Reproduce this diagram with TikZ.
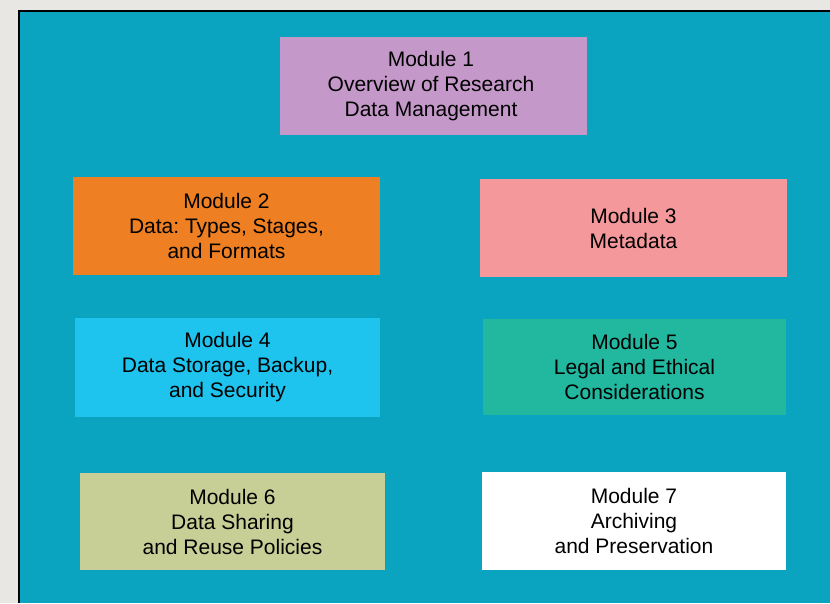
\documentclass[tikz,border=0pt]{standalone}
\usepackage{fontspec}
\setmainfont{Liberation Sans}
\frenchspacing
\definecolor{outergray}{HTML}{E8E7E3}
\definecolor{tealbg}{HTML}{0AA3C0}
\definecolor{mpurple}{HTML}{C498C8}
\definecolor{morange}{HTML}{EE7F22}
\definecolor{mpink}{HTML}{F4989B}
\definecolor{mblue}{HTML}{1EC3EE}
\definecolor{mgreen}{HTML}{22B8A0}
\definecolor{molive}{HTML}{C8CF96}
\definecolor{mwhite}{HTML}{FFFFFF}
\tikzset{
  modbox/.style={draw=none, inner sep=0pt, outer sep=0pt, align=center,
    font=\fontsize{21}{25}\selectfont, text=black},
}
\begin{document}
\begin{tikzpicture}[x=1pt,y=-1pt]
\useasboundingbox (0,0) rectangle (830,603);
\fill[outergray] (0,0) rectangle (830,603);
\fill[tealbg] (19,11) rectangle (830,603);
\draw[black, line width=1.5pt] (19,603) -- (19,11) -- (830,11);
% boxes
\fill[mpurple] (280,37) rectangle (587,135);
\node[modbox] (m1) at (431,86) {Module 1\\Overview of Research\\Data Management};
\fill[morange] (73,177) rectangle (380,275);
\node[modbox] (m2) at (226.5,226) {Module 2\\Data: Types, Stages,\\and Formats};
\fill[mpink] (480,179) rectangle (787,277);
\node[modbox] (m3) at (633.5,228) {Module 3\\Metadata};
\fill[mblue] (75,318) rectangle (380,417);
\node[modbox] (m4) at (227.5,367.5) {Module 4\\Data Storage, Backup,\\and Security};
\fill[mgreen] (483,319) rectangle (786,415);
\node[modbox] (m5) at (634.5,367) {Module 5\\Legal and Ethical\\Considerations};
\fill[molive] (80,473) rectangle (385,570);
\node[modbox] (m6) at (232.5,521.5) {Module 6\\Data Sharing\\and Reuse Policies};
\fill[mwhite] (482,472) rectangle (786,570);
\node[modbox] (m7) at (634,521) {Module 7\\Archiving\\and Preservation};
\end{tikzpicture}
\end{document}
